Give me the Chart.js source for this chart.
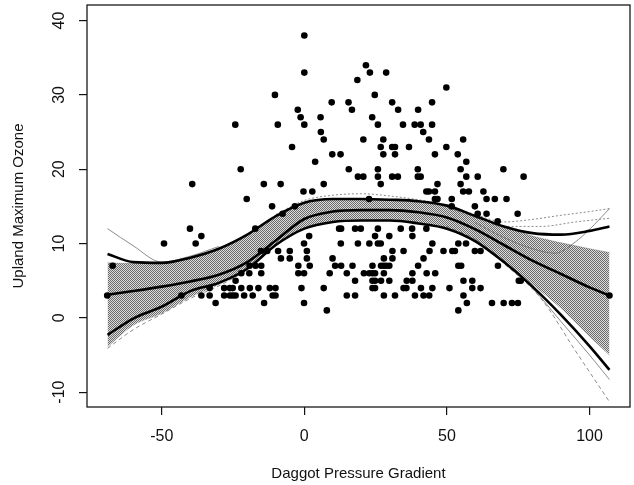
<!DOCTYPE html>
<html><head><meta charset="utf-8">
<script src="https://cdn.jsdelivr.net/npm/chart.js@4/dist/chart.umd.min.js"></script>
<style>html,body{margin:0;padding:0;background:#fff}canvas{display:block}</style>
</head><body>
<canvas id="c" width="634" height="485"></canvas>
<script>
// ---- axis texts / ticks ----
const X_TITLE = 'Daggot Pressure Gradient';
const Y_TITLE = 'Upland Maximum Ozone';
const X_TICKS = [-50, 0, 50, 100];
const Y_TICKS = [-10, 0, 10, 20, 30, 40];

// ---- observations: ozone level and the gradients observed at that level ----
const OZONE_LEVELS = [38, 34, 33, 32, 31, 30, 29, 28, 27, 26, 25, 24, 23, 22, 21, 20, 19, 18, 17, 16, 15, 14, 13, 12, 11, 10, 9, 8, 7, 6, 5, 4, 3, 2, 1];
const GRADIENTS_AT_LEVEL = [
  [0],
  [21.6],
  [0, 23.0, 28.7],
  [18.6],
  [49.8],
  [-10.3, 24.7],
  [9.6, 15.5, 30.8, 44.8],
  [-2.3, 16.7, 32.9, 39.9],
  [-1.3, 5.7, 23.8],
  [-24.2, -9.3, 0, 25.8, 34.6, 38.7, 40.8, 44.8],
  [5.8, 41.7],
  [6.8, 20.7, 27.7, 43.7, 55.7],
  [-4.3, 26.8, 30.8, 31.8, 36.7, 49.8],
  [9.8, 12.7, 27.7, 31.8, 45.8, 53.8],
  [3.8, 56.8],
  [-22.3, 15.6, 25.8, 39.8, 54.8, 69.8],
  [18.8, 20.7, 25.8, 30.8, 32.8, 39.8, 40.8, 56.8, 60.8, 76.9],
  [-39.3, -14.2, -8.3, 6.8, 26.8, 46.7, 54.8],
  [-0.3, 2.8, 42.8, 43.7, 45.8, 55.7, 57.7, 62.8],
  [-20.2, 22.7, 45.8, 46.7, 51.7, 63.9, 66.8, 70.9],
  [-11.3, -3.3, 51.7, 59.8],
  [-7.6, 60.8, 63.9, 74.8],
  [67.8],
  [-40.1, -17.2, 12.2, 12.9, 17.8, 19.8, 25.8, 33.8, 37.8, 42.8],
  [-36.1, 1.7, 24.8, 29.8, 37.9],
  [-49.2, -38.1, -0.1, 12.8, 18.8, 22.8, 25.8, 26.8, 44.9, 54.0, 56.7],
  [-15.2, -13.0, -9.2, -5.1, 0.9, 30.9, 34.8, 43.9, 48.8, 51.9, 52.8, 59.8, 61.8],
  [-8.2, -5.1, 0.9, 9.9, 27.9, 30.9, 41.8],
  [-67.2, -19.2, -17.1, -15.1, -2.1, 1.9, 10.8, 12.9, 16.9, 23.9, 26.9, 27.9, 28.8, 29.8, 39.9, 54.0, 55.0, 67.9],
  [-22.1, -19.3, -15.1, -2.1, -0.1, 8.9, 14.9, 20.9, 22.8, 23.9, 24.8, 27.9, 37.9, 42.9, 45.9],
  [-24.1, 17.8, 23.9, 24.8, 26.9, 29.8, 35.9, 37.9, 55.8, 58.9, 75.2, 75.9],
  [-33.2, -28.1, -26.1, -25.1, -22.1, -19.1, -16.1, -12.1, -10.1, -1.0, 6.8, 23.9, 24.8, 34.8, 35.8, 40.9, 44.9, 50.9, 58.9, 61.8],
  [-69.1, -43.1, -36.1, -33.2, -28.1, -26.1, -25.1, -24.1, -21.1, -18.1, -11.1, -10.1, 14.9, 17.8, 27.9, 31.8, 38.8, 41.8, 43.8, 55.8, 107],
  [-31.1, -14.1, -0.1, 57.0, 65.8, 69.9, 72.8, 74.9],
  [7.9, 54.0]
];

// ---- smooth fit and its bands (read at these gradients) ----
const CURVE_X     = [-69, -60, -50, -40, -30, -20, -10, 0, 10, 20, 30, 40, 50, 60, 70, 80, 90, 100, 107];
const FIT_MID     = [3.1, 3.6, 4.2, 4.9, 5.8, 7.5, 10.4, 13.3, 14.3, 14.5, 14.5, 14.2, 13.5, 11.9, 9.8, 7.7, 5.9, 4.1, 3.0];
const FIT_UPPER   = [8.6, 7.5, 7.4, 8.1, 9.3, 11.2, 13.7, 15.5, 16.0, 16.0, 15.9, 15.7, 15.1, 13.7, 12.3, 11.4, 11.2, 11.7, 12.3];
const FIT_LOWER   = [-2.3, -0.1, 1.5, 3.6, 4.7, 6.6, 9.8, 12.0, 12.9, 13.1, 13.1, 12.7, 12.0, 10.3, 7.5, 4.2, 0.4, -3.8, -7.0];
const BOOT_TOP    = [7.4, 7.3, 7.4, 8.1, 9.3, 11.2, 13.7, 15.5, 16.0, 16.0, 15.9, 15.7, 15.1, 13.7, 12.3, 11.0, 10.1, 9.3, 8.8];
const BOOT_BOTTOM = [-3.9, -1.0, 0.6, 2.8, 4.5, 6.6, 9.8, 12.0, 12.9, 13.1, 13.1, 12.7, 12.0, 10.3, 7.5, 4.5, 1.3, -2.5, -5.0];

// ---- a few individual bootstrap curves that stray outside the band ----
const BOOT_A_X = [-69, -60, -50, -40, -30];          const BOOT_A_Y = [12.0, 9.7, 7.5, 8.3, 9.6];
const BOOT_B_X = [-69, -60, -50, -40, -30, -20];     const BOOT_B_Y = [-4.1, -1.6, 0.5, 2.6, 4.3, 6.4];
const BOOT_C_X = [50, 60, 70, 79, 90, 100, 107];     const BOOT_C_Y = [15.2, 13.9, 12.9, 13.2, 13.8, 14.3, 14.7];
const BOOT_D_X = [50, 60, 70, 83, 95, 107];          const BOOT_D_Y = [14.9, 13.5, 12.3, 12.3, 12.9, 13.4];
const BOOT_E_X = [60, 70, 80, 88, 95, 100, 107];     const BOOT_E_Y = [12.8, 10.8, 9.3, 8.7, 10.2, 11.9, 14.7];
const BOOT_F_X = [50, 60, 70, 83, 95, 107];          const BOOT_F_Y = [12.3, 10.5, 7.3, 2.6, -4.4, -11.3];
const BOOT_G_X = [60, 70, 80, 90, 100, 107];         const BOOT_G_Y = [10.6, 7.6, 4.0, -0.5, -5.0, -8.3];
const BOOT_H_X = [-10, 0, 10, 20, 30, 40, 50];       const BOOT_H_Y = [13.9, 15.8, 16.5, 16.7, 16.4, 15.9, 15.2];

// ---- build ----
const pts = (xs, ys) => xs.map((x, i) => ({x, y: ys[i]}));
const obs = [];
OZONE_LEVELS.forEach((lvl, i) => GRADIENTS_AT_LEVEL[i].forEach(g => obs.push({x: g, y: lvl})));

const canvas = document.getElementById('c');
const ctx0 = canvas.getContext('2d');
const pc = document.createElement('canvas'); pc.width = 2; pc.height = 2;
const pg = pc.getContext('2d');
pg.fillStyle = '#dcdcdc'; pg.fillRect(0, 0, 2, 2);
pg.fillStyle = '#6a6a6a'; pg.fillRect(0, 0, 1, 1); pg.fillRect(1, 1, 1, 1);
const bandPattern = ctx0.createPattern(pc, 'repeat');

const FONT = '"Liberation Sans", Arial, Helvetica, sans-serif';
const thin = (xs, ys, dash) => ({
  type: 'line', data: pts(xs, ys), borderColor: '#6e6e6e', borderWidth: 0.8,
  borderDash: dash, pointRadius: 0, fill: false, cubicInterpolationMode: 'monotone', order: 3
});
const thick = (ys) => ({
  type: 'line', data: pts(CURVE_X, ys), borderColor: '#000', borderWidth: 2.6,
  pointRadius: 0, fill: false, cubicInterpolationMode: 'monotone', order: 1
});

const rAxes = {
  id: 'rAxes',
  afterDraw(chart) {
    const {ctx, chartArea: a, scales} = chart;
    ctx.save();
    ctx.strokeStyle = '#1a1a1a'; ctx.lineWidth = 1.3;
    ctx.strokeRect(a.left, a.top, a.right - a.left, a.bottom - a.top);
    ctx.fillStyle = '#111';
    ctx.font = '16px ' + FONT;
    ctx.textAlign = 'center'; ctx.textBaseline = 'middle';
    for (const v of Y_TICKS) {
      const y = scales.y.getPixelForValue(v);
      ctx.save(); ctx.translate(60, y); ctx.rotate(-Math.PI / 2);
      ctx.fillText(String(v), 0, 0); ctx.restore();
    }
    ctx.restore();
  }
};

new Chart(canvas, {
  data: {
    datasets: [
      { type: 'line', data: pts(CURVE_X, BOOT_TOP), borderColor: 'rgba(90,90,90,0.6)', borderWidth: 0.6,
        pointRadius: 0, backgroundColor: bandPattern, fill: 1, cubicInterpolationMode: 'monotone', order: 4 },
      { type: 'line', data: pts(CURVE_X, BOOT_BOTTOM), borderColor: 'rgba(90,90,90,0.6)', borderWidth: 0.6,
        pointRadius: 0, fill: false, cubicInterpolationMode: 'monotone', order: 4 },
      thin(BOOT_A_X, BOOT_A_Y, []),
      thin(BOOT_B_X, BOOT_B_Y, [4, 3]),
      thin(BOOT_C_X, BOOT_C_Y, [2, 2]),
      thin(BOOT_D_X, BOOT_D_Y, [2, 2]),
      thin(BOOT_E_X, BOOT_E_Y, []),
      thin(BOOT_F_X, BOOT_F_Y, [4, 3]),
      thin(BOOT_G_X, BOOT_G_Y, []),
      thin(BOOT_H_X, BOOT_H_Y, [2, 2]),
      thick(FIT_UPPER),
      thick(FIT_LOWER),
      thick(FIT_MID),
      { type: 'scatter', data: obs, backgroundColor: '#000', borderWidth: 0, pointRadius: 3.3, order: 0 }
    ]
  },
  options: {
    responsive: false, animation: false, devicePixelRatio: 1,
    layout: { padding: { left: 0, top: 5, right: 3, bottom: 0 } },
    plugins: { legend: { display: false }, tooltip: { enabled: false } },
    scales: {
      x: {
        type: 'linear', min: -76.2, max: 114.2,
        afterBuildTicks: s => { s.ticks = X_TICKS.map(v => ({value: v})); },
        afterFit: s => { s.height = 78; },
        grid: { drawOnChartArea: false, drawTicks: true, tickLength: 8, color: '#111', lineWidth: 1.2 },
        border: { display: false },
        ticks: { color: '#111', font: { family: FONT, size: 16 }, padding: 12, maxRotation: 0 },
        title: { display: true, text: X_TITLE, color: '#111', font: { family: FONT, size: 15 }, padding: { top: 0, bottom: 2 } }
      },
      y: {
        type: 'linear', min: -12, max: 42.1,
        afterBuildTicks: s => { s.ticks = Y_TICKS.map(v => ({value: v})); },
        afterFit: s => { s.width = 87; },
        grid: { drawOnChartArea: false, drawTicks: true, tickLength: 8, color: '#111', lineWidth: 1.2 },
        border: { display: false },
        ticks: { display: false },
        title: { display: true, text: Y_TITLE, color: '#111', font: { family: FONT, size: 15 }, padding: { top: 10, bottom: 0 } }
      }
    }
  },
  plugins: [rAxes]
});
</script>
</body></html>
